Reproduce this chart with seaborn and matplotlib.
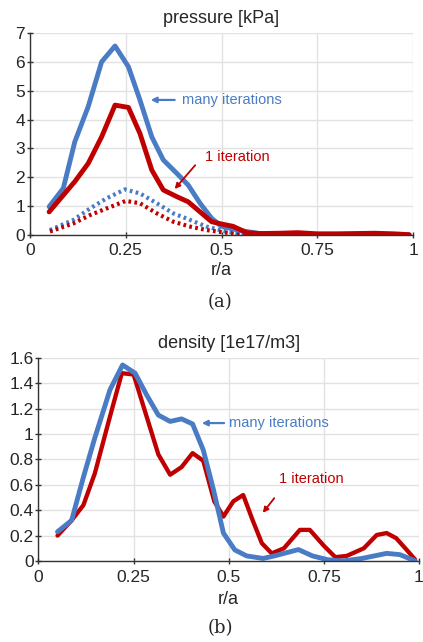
import matplotlib
matplotlib.use("Agg")
import matplotlib.pyplot as plt
import seaborn as sns
import pandas as pd

# ---------------- data ----------------
# pressure [kPa]
p_many_x = [0.05, 0.087, 0.117, 0.152, 0.187, 0.222, 0.257, 0.287, 0.318, 0.348, 0.383, 0.413,
            0.444, 0.474, 0.50, 0.55, 0.60, 0.65, 0.70, 0.75, 0.80, 0.85, 0.90, 0.95, 0.99]
p_many_y = [0.98, 1.62, 3.23, 4.45, 6.0, 6.55, 5.83, 4.68, 3.4, 2.6, 2.14, 1.73,
            1.1, 0.58, 0.3, 0.15, 0.05, 0.03, 0.03, 0.02, 0.02, 0.02, 0.02, 0.01, 0.0]
p_one_x = [0.05, 0.117, 0.152, 0.187, 0.222, 0.257, 0.287, 0.318, 0.348, 0.383, 0.413, 0.444,
           0.474, 0.50, 0.53, 0.566, 0.60, 0.65, 0.70, 0.75, 0.80, 0.85, 0.90, 0.95, 0.99]
p_one_y = [0.8, 1.85, 2.48, 3.4, 4.5, 4.42, 3.52, 2.25, 1.56, 1.33, 1.15, 0.8,
           0.46, 0.38, 0.3, 0.08, 0.05, 0.06, 0.08, 0.04, 0.04, 0.05, 0.06, 0.04, 0.01]
p_many_dot_x = [0.052, 0.113, 0.157, 0.2, 0.248, 0.287, 0.331, 0.374, 0.418, 0.461, 0.505, 0.548, 0.59]
p_many_dot_y = [0.17, 0.52, 0.92, 1.27, 1.58, 1.44, 1.1, 0.75, 0.52, 0.29, 0.14, 0.04, 0.0]
p_one_dot_x = [0.052, 0.113, 0.157, 0.2, 0.25, 0.287, 0.331, 0.374, 0.418, 0.461, 0.505, 0.548, 0.58]
p_one_dot_y = [0.12, 0.4, 0.69, 0.92, 1.18, 1.1, 0.75, 0.46, 0.29, 0.17, 0.09, 0.03, 0.0]

# density [1e17/m3]
d_many_x = [0.05, 0.087, 0.118, 0.148, 0.188, 0.221, 0.254, 0.284, 0.315, 0.346, 0.376, 0.405,
            0.433, 0.46, 0.486, 0.516, 0.547, 0.59, 0.62, 0.683, 0.72, 0.76, 0.8, 0.85, 0.915, 0.95, 0.99]
d_many_y = [0.23, 0.32, 0.66, 0.97, 1.35, 1.545, 1.48, 1.31, 1.15, 1.10, 1.12, 1.08,
            0.875, 0.56, 0.22, 0.087, 0.04, 0.02, 0.04, 0.09, 0.04, 0.01, 0.0, 0.02, 0.06, 0.05, 0.0]
d_one_x = [0.05, 0.087, 0.118, 0.148, 0.188, 0.219, 0.25, 0.284, 0.315, 0.346, 0.376, 0.405,
           0.433, 0.462, 0.486, 0.512, 0.538, 0.563, 0.587, 0.613, 0.645, 0.687, 0.713, 0.75,
           0.78, 0.81, 0.855, 0.889, 0.915, 0.94, 0.97, 0.99]
d_one_y = [0.20, 0.32, 0.44, 0.69, 1.14, 1.48, 1.47, 1.14, 0.84, 0.68, 0.74, 0.85,
           0.79, 0.47, 0.35, 0.47, 0.52, 0.32, 0.14, 0.06, 0.10, 0.245, 0.245, 0.12,
           0.03, 0.04, 0.10, 0.205, 0.22, 0.18, 0.08, 0.01]

x_ticks = [0, 0.25, 0.5, 0.75, 1]
x_tick_labels = ["0", "0.25", "0.5", "0.75", "1"]
p_ticks = [0, 1, 2, 3, 4, 5, 6, 7]
p_tick_labels = ["0", "1", "2", "3", "4", "5", "6", "7"]
d_ticks = [0, 0.2, 0.4, 0.6, 0.8, 1.0, 1.2, 1.4, 1.6]
d_tick_labels = ["0", "0.2", "0.4", "0.6", "0.8", "1", "1.2", "1.4", "1.6"]

BLUE = "#4a7cc6"
RED = "#c00000"

sns.set_style("whitegrid")
plt.rcParams["font.family"] = ["Liberation Sans", "DejaVu Sans"]

fig = plt.figure(figsize=(4.23, 6.42), dpi=100)
ax1 = fig.add_axes([0.0709, 0.634, 0.9055, 0.3146])
ax2 = fig.add_axes([0.091, 0.1262, 0.8995, 0.3162])


def df(x, y):
    return pd.DataFrame({"x": x, "y": y})


DOT = (0, (0.65, 0.8))

# pressure
sns.lineplot(data=df(p_many_dot_x, p_many_dot_y), x="x", y="y", ax=ax1, color=BLUE,
             lw=3.0, linestyle=DOT, sort=False)
sns.lineplot(data=df(p_one_dot_x, p_one_dot_y), x="x", y="y", ax=ax1, color=RED,
             lw=3.0, linestyle=DOT, sort=False)
sns.lineplot(data=df(p_many_x, p_many_y), x="x", y="y", ax=ax1, color=BLUE, lw=3.5, sort=False)
sns.lineplot(data=df(p_one_x, p_one_y), x="x", y="y", ax=ax1, color=RED, lw=3.5, sort=False)

# density
sns.lineplot(data=df(d_one_x, d_one_y), x="x", y="y", ax=ax2, color=RED, lw=3.1, sort=False)
sns.lineplot(data=df(d_many_x, d_many_y), x="x", y="y", ax=ax2, color=BLUE, lw=3.5, sort=False)


def style(ax, yticks, ylabels, ymax, title, xpad, lpad):
    ax.set_xlim(0, 1)
    ax.set_ylim(0, ymax)
    ax.set_xticks(x_ticks)
    ax.set_xticklabels(x_tick_labels)
    ax.set_yticks(yticks)
    ax.set_yticklabels(ylabels)
    ax.set_xlabel("r/a", fontsize=13, labelpad=lpad)
    ax.set_ylabel("")
    ax.set_title(title, fontsize=13, pad=7)
    ax.grid(True, color="#e2e2e2", lw=1.0)
    for s in ["top", "right"]:
        ax.spines[s].set_visible(False)
    for s in ["left", "bottom"]:
        ax.spines[s].set_visible(True)
        ax.spines[s].set_color("#333333")
        ax.spines[s].set_linewidth(1.0)
    ax.tick_params(axis="both", which="major", labelsize=12.5, direction="inout",
                   length=5, width=1, color="#333333", pad=1, left=True, bottom=True)
    ax.tick_params(axis="x", pad=xpad)
    ax.set_facecolor("white")


style(ax1, p_ticks, p_tick_labels, 7, "pressure [kPa]", 3.5, 3)
style(ax2, d_ticks, d_tick_labels, 1.6, "density [1e17/m3]", 4, 4)

# annotations - pressure
ax1.annotate("", xy=(0.308, 4.68), xytext=(0.385, 4.68),
             arrowprops=dict(arrowstyle="-|>", color=BLUE, lw=1.6, mutation_scale=8))
ax1.text(0.397, 4.68, "many iterations", color=BLUE, fontsize=10.5, va="center", ha="left")
ax1.annotate("", xy=(0.373, 1.52), xytext=(0.436, 2.49),
             arrowprops=dict(arrowstyle="-|>", color=RED, lw=1.3, mutation_scale=8))
ax1.text(0.457, 2.70, "1 iteration", color=RED, fontsize=10.5, va="center", ha="left")

# annotations - density
ax2.annotate("", xy=(0.422, 1.087), xytext=(0.495, 1.087),
             arrowprops=dict(arrowstyle="-|>", color=BLUE, lw=1.6, mutation_scale=8))
ax2.text(0.5006, 1.087, "many iterations", color=BLUE, fontsize=10.5, va="center", ha="left")
ax2.annotate("", xy=(0.585, 0.362), xytext=(0.624, 0.512),
             arrowprops=dict(arrowstyle="-|>", color=RED, lw=1.3, mutation_scale=8))
ax2.text(0.632, 0.646, "1 iteration", color=RED, fontsize=10.5, va="center", ha="left")

# captions
fig.text(0.52, 1 - 302 / 642, "(a)", ha="center", va="center", fontsize=13,
         family=["DejaVu Serif", "Liberation Serif"])
fig.text(0.52, 1 - 628 / 642, "(b)", ha="center", va="center", fontsize=13,
         family=["DejaVu Serif", "Liberation Serif"])

fig.savefig("out.png", dpi=100, facecolor="white")
